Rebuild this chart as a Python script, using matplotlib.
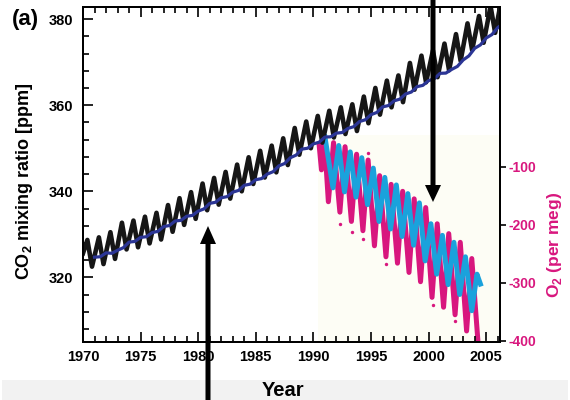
import numpy as np
import matplotlib
matplotlib.use("Agg")
import matplotlib.pyplot as plt
from matplotlib.ticker import MultipleLocator
from matplotlib.patches import FancyArrow, Rectangle

plt.rcParams['font.family'] = ['Liberation Sans', 'DejaVu Sans']
plt.rcParams['font.weight'] = 'bold'
plt.rcParams['axes.unicode_minus'] = False
plt.rcParams['mathtext.fontset'] = 'custom'
plt.rcParams['mathtext.rm'] = 'Liberation Sans:bold'
plt.rcParams['mathtext.bf'] = 'Liberation Sans:bold'

# Mauna Loa CO2: yearly seasonal maximum (May) and minimum (Sep/Oct), ppm
co2_years = list(range(1970, 2006))
co2_peak = [328.7, 329.3, 330.5, 332.7, 333.2, 334.1, 335.0, 336.8, 338.4, 339.8,
            341.8, 343.1, 344.5, 346.2, 347.9, 349.4, 350.6, 352.3, 354.7, 356.2,
            357.5, 358.7, 359.5, 360.2, 362.0, 364.0, 365.7, 366.9, 369.8, 371.5,
            372.7, 374.3, 376.5, 379.0, 380.7, 383.0]
co2_trough = [322.5, 323.1, 324.3, 326.5, 327.0, 327.9, 328.8, 330.6, 332.2, 333.6,
              335.6, 336.9, 338.3, 340.0, 341.7, 343.2, 344.4, 346.1, 348.5, 350.0,
              351.3, 352.5, 353.3, 354.0, 355.8, 357.8, 359.5, 360.7, 363.6, 365.3,
              366.5, 368.1, 370.3, 372.8, 374.5, 376.8]
co2_start = (1970.0, 325.6)
co2_end = (2006.3, 384.2)

# South Pole CO2, half-yearly, ppm
spo_years = np.arange(1971.0, 2006.51, 0.5)
spo_ppm = [324.7, 324.8, 325.7, 325.6, 326.3, 326.9, 328.2, 328.35, 329.3, 329.45,
           330.4, 330.7, 331.8, 332.05, 333.1, 333.25, 334.2, 334.4, 335.4, 335.9,
           337.2, 337.45, 338.5, 338.75, 339.8, 340.2, 341.4, 341.65, 342.7, 342.95,
           344.0, 344.55, 345.9, 346.45, 347.8, 348.4, 349.8, 350.0, 351.0, 351.4,
           352.6, 352.65, 353.5, 353.65, 354.6, 355.0, 356.2, 356.6, 357.8, 358.3,
           359.6, 359.9, 361.0, 361.4, 362.6, 363.05, 364.3, 364.6, 365.7, 366.15,
           367.4, 367.45, 368.3, 369.0, 370.5, 371.45, 373.2, 374.0, 375.6, 376.4,
           378.0, 379.0]

# O2/N2 (per meg), northern station (magenta)
o2_n_years = [1990.5, 1990.7, 1990.95, 1991.3, 1991.75, 1992.3, 1992.75, 1993.3, 1993.75,
              1994.3, 1994.75, 1995.3, 1995.75, 1996.3, 1996.75, 1997.3, 1997.75, 1998.3,
              1998.75, 1999.3, 1999.75, 2000.3, 2000.75, 2001.3, 2001.75, 2002.3, 2002.75,
              2003.3, 2003.75, 2004.3, 2004.45]
o2_n = [-62, -105, -50, -160, -58, -178, -65, -194, -78, -210, -88, -236, -115, -255,
        -130, -266, -142, -282, -155, -298, -170, -325, -198, -342, -215, -355, -230,
        -383, -258, -405, -420]
o2_n_dot_years = [1992.35, 1993.35, 1994.3, 1994.75, 2000.35, 2002.3, 1996.3]
o2_n_dots = [-198, -212, -225, -76, -338, -366, -268]

# O2/N2 (per meg), southern station (cyan)
o2_s_years = [1991.0, 1991.7, 1992.2, 1992.7, 1993.2, 1993.7, 1994.2, 1994.7, 1995.2,
              1995.7, 1996.2, 1996.7, 1997.2, 1997.7, 1998.2, 1998.7, 1999.2, 1999.7,
              2000.2, 2000.7, 2001.2, 2001.7, 2002.2, 2002.7, 2003.2, 2003.75, 2004.2,
              2004.5]
o2_s = [-48, -136, -63, -143, -74, -152, -84, -165, -102, -194, -118, -207, -131, -220,
        -146, -235, -162, -262, -198, -285, -218, -303, -230, -320, -255, -348, -285, -302]

black = '#161616'
navy = '#2b3595'
magenta = '#d8177e'
cyan = '#1aa2dc'

# interleave maxima and minima into one seasonal curve
co2_t = [co2_start[0]]
co2_v = [co2_start[1]]
for y, p, t in zip(co2_years, co2_peak, co2_trough):
    co2_t += [y + 0.38, y + 0.78]
    co2_v += [p, t]
co2_t.append(co2_end[0])
co2_v.append(co2_end[1])

fig = plt.figure(figsize=(5.7, 4.0), dpi=100)
fig.add_artist(Rectangle((0.02, 0), 5.66, 0.2, transform=fig.dpi_scale_trans,
                         color='#f2f2f2', lw=0, zorder=0))

ax = fig.add_axes([83 / 570, 58 / 400, 417 / 570, 335 / 400])
ax2 = ax.twinx()
ax.set_zorder(ax2.get_zorder() + 1)
ax.patch.set_visible(False)

# O2 axis (behind)
ax2.fill_between([1990.4, 2006.2], -402, -45, color='#fdfdf5', lw=0, zorder=0)
ax2.plot(o2_n_years, o2_n, color=magenta, lw=3.6, solid_joinstyle='round', zorder=2)
ax2.plot(o2_s_years, o2_s, color=cyan, lw=3.6, solid_joinstyle='round', zorder=3)
ax2.scatter(o2_n_dot_years, o2_n_dots, s=6, color=magenta, lw=0, zorder=2)
ax2.set_ylim(-402, 176)
ax2.set_yticks([-100, -200, -300, -400])
ax2.tick_params(axis='y', direction='out', length=4, width=1.2, pad=2,
                labelsize=10, labelcolor=magenta)
ax2.set_ylabel('O$_2$ (per meg)', color=magenta, fontsize=12.5, fontweight='bold')
ax2.yaxis.set_label_coords(1.108, 0.29)

# CO2 axis (front)
ax.plot(co2_t, co2_v, color=black, lw=3.3, solid_joinstyle='round')
ax.plot(spo_years, spo_ppm, color=navy, lw=2.3, solid_joinstyle='round')
ax.set_xlim(1970, 2006.2)
ax.set_ylim(305, 382.8)
ax.xaxis.set_major_locator(MultipleLocator(5))
ax.xaxis.set_minor_locator(MultipleLocator(1))
ax.set_yticks([320, 340, 360, 380])
ax.yaxis.set_minor_locator(MultipleLocator(4))
ax.tick_params(axis='x', which='both', direction='in', top=True, bottom=True,
               width=1.2, labelsize=10.5, pad=6)
ax.tick_params(axis='y', which='both', direction='in', left=True, right=False,
               width=1.2, labelsize=10.5, pad=7)
ax.tick_params(which='major', length=7)
ax.tick_params(which='minor', length=4.5)
ax.set_ylabel('CO$_2$ mixing ratio [ppm]', fontsize=13, fontweight='bold')
ax.yaxis.set_label_coords(-0.115, 0.48)

for a in (ax, ax2):
    for s in a.spines.values():
        s.set_linewidth(1.4)

fig.text(12 / 570, 1 - 20 / 400, '(a)', fontsize=16, fontweight='bold', va='center')
fig.text(283 / 570, 4 / 400, 'Year', fontsize=14.5, fontweight='bold',
         ha='center', va='baseline')

# pointer arrows
fig.add_artist(FancyArrow(2.08, -0.05, 0, 1.79, width=0.05, head_width=0.16,
                          head_length=0.18, length_includes_head=True,
                          transform=fig.dpi_scale_trans, color='black', lw=0, zorder=10))
fig.add_artist(FancyArrow(4.33, 4.05, 0, -2.07, width=0.05, head_width=0.16,
                          head_length=0.17, length_includes_head=True,
                          transform=fig.dpi_scale_trans, color='black', lw=0, zorder=10))

fig.savefig('out.png', dpi=100)
